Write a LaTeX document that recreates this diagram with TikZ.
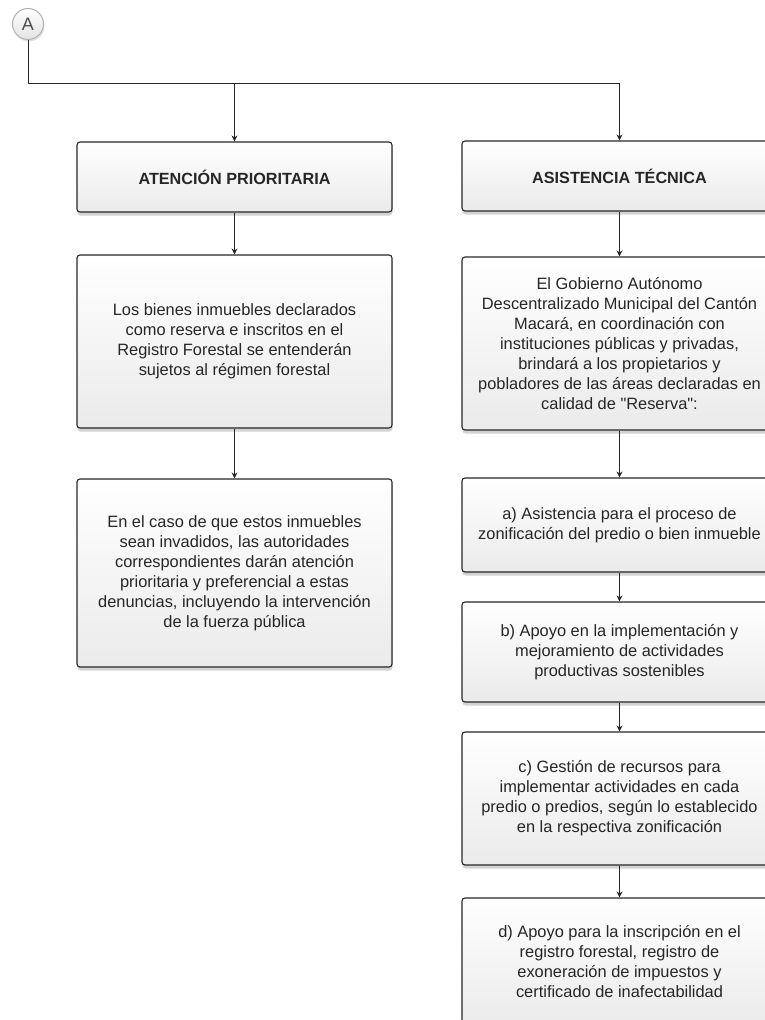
\documentclass[tikz,border=0pt]{standalone}
\usepackage{fontspec}
\setmainfont{Liberation Sans}[Ligatures=TeXOff]
\usetikzlibrary{arrows.meta,shadows}

\tikzset{
  caja/.style={draw=gray!30!black, line width=1.1pt, rounded corners=3pt,
    top color=white, bottom color=gray!16,
    drop shadow={opacity=0.35, shadow xshift=0.5pt, shadow yshift=-3.5pt},
    minimum width=315pt, inner sep=0pt, align=center, text=black!85,
    font=\fontsize{16.4}{20}\selectfont},
  titulo/.style={caja, font=\fontsize{16.2}{20}\selectfont\bfseries},
  circulo/.style={circle, draw=gray!60, line width=1pt, minimum size=31pt, inner sep=0pt,
    top color=white, bottom color=gray!22, text=gray!60!black,
    drop shadow={opacity=0.25, shadow xshift=1pt, shadow yshift=-2pt},
    font=\fontsize{18}{18}\selectfont},
  linea/.style={draw=black!85, line width=0.8pt},
  flecha/.style={linea, -{Stealth[length=6pt,width=6pt]}},
}

\begin{document}
\begin{tikzpicture}[x=1pt,y=-1pt]
    \clip (0,0) rectangle (765,1020);

    % Draw off-page connector
    \node[circulo] (A) at (28,24) {A};
    \coordinate (split) at (28,83);

    % Left column
    \node[titulo, minimum height=70pt] (atencion) at (234.5,177) {ATENCIÓN PRIORITARIA};
    \node[caja, minimum height=173pt] (bienes) at (234.5,341.5)
        {Los bienes inmuebles declarados\\como reserva e inscritos en el\\Registro Forestal se entenderán\\sujetos al régimen forestal};
    \node[caja, minimum height=188pt] (caso) at (234.5,573)
        {En el caso de que estos inmuebles\\sean invadidos, las autoridades\\correspondientes darán atención\\prioritaria y preferencial a estas\\denuncias, incluyendo la intervención\\de la fuerza pública};

    % Right column
    \node[titulo, minimum height=70pt] (asistencia) at (619.5,176) {ASISTENCIA TÉCNICA};
    \node[caja, minimum height=173pt] (gobierno) at (619.5,343.5)
        {El Gobierno Autónomo\\Descentralizado Municipal del Cantón\\Macará, en coordinación con\\instituciones públicas y privadas,\\brindará a los propietarios y\\pobladores de las áreas declaradas en\\calidad de "Reserva":};
    \node[caja, minimum height=94pt] (opa) at (619.5,525)
        {a) Asistencia para el proceso de\\zonificación del predio o bien inmueble};
    \node[caja, minimum height=100pt] (opb) at (619.5,652)
        {b) Apoyo en la implementación y\\mejoramiento de actividades\\productivas sostenibles};
    \node[caja, minimum height=133pt] (opc) at (619.5,798.5)
        {c) Gestión de recursos para\\implementar actividades en cada\\predio o predios, según lo establecido\\en la respectiva zonificación};
    \node[caja, minimum height=128pt] (opd) at (619.5,962)
        {d) Apoyo para la inscripción en el\\registro forestal, registro de\\exoneración de impuestos y\\certificado de inafectabilidad};

    % Draw connectors
    \draw[linea] (A) -- (split);
    \draw[flecha] (split) -| (atencion);
    \draw[flecha] (split) -| (asistencia);
    \draw[flecha] (atencion) -- (bienes);
    \draw[flecha] (bienes) -- (caso);
    \draw[flecha] (asistencia) -- (gobierno);
    \draw[flecha] (gobierno) -- (opa);
    \draw[flecha] (opa) -- (opb);
    \draw[flecha] (opb) -- (opc);
    \draw[flecha] (opc) -- (opd);
\end{tikzpicture}
\end{document}
